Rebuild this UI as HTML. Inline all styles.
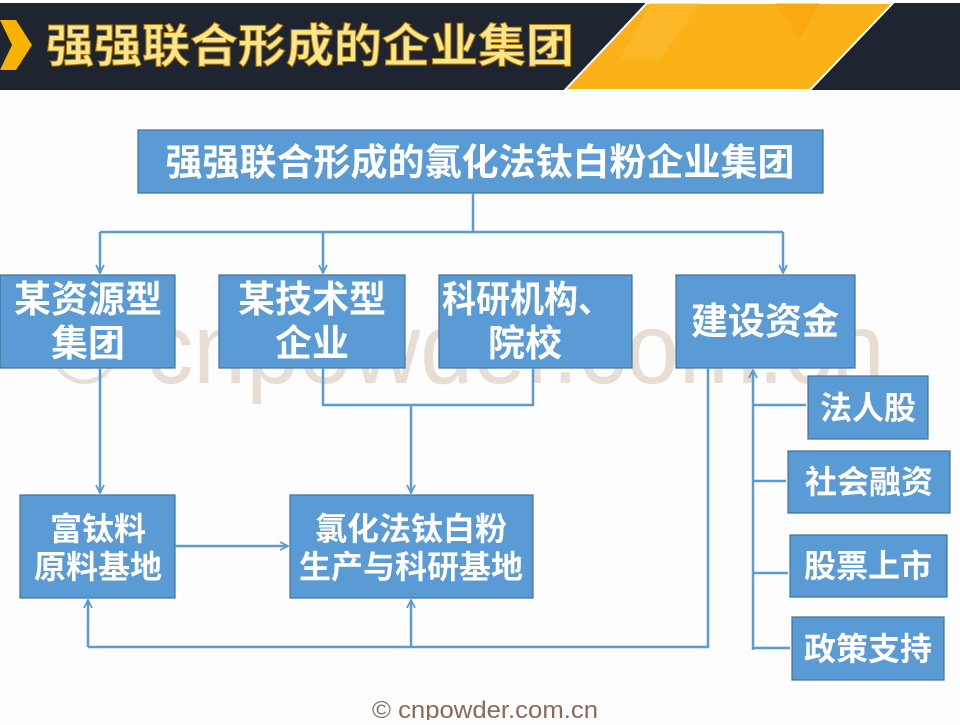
<!DOCTYPE html>
<html><head><meta charset="utf-8"><style>
body{margin:0;width:960px;height:720px;overflow:hidden;background:#fdfdfd;font-family:"Liberation Sans","Noto Sans CJK SC",sans-serif}
</style></head><body>
<svg width="960" height="720" viewBox="0 0 960 720" xmlns="http://www.w3.org/2000/svg" font-family="Liberation Sans, Noto Sans CJK SC, sans-serif">
<defs><marker id="a" viewBox="0 0 10 10" refX="9" refY="5" markerWidth="10" markerHeight="10" markerUnits="userSpaceOnUse" orient="auto"><path d="M1,1 L9,5 L1,9" fill="none" stroke="#5b9bd5" stroke-width="1.8"/></marker></defs>
<rect x="0" y="3" width="960" height="87" fill="#1e2530"/>
<polygon points="647,3 893,3 810,90 565,90" fill="#fbb118" stroke="#fff" stroke-width="2"/>
<polygon points="650,3 700,3 660,60 620,60" fill="#fdbd35" opacity=".5"/>
<polygon points="775,3 820,3 800,40" fill="#f9a300" opacity=".5"/>
<polygon points="0,20 16,20 32,45 16,70 0,70 12,45" fill="#f6b400"/>
<text x="46" y="62" font-size="46" font-weight="bold" fill="#fde58c" stroke="#b07a00" stroke-width="1" textLength="528" lengthAdjust="spacingAndGlyphs">强强联合形成的企业集团</text>
<text x="467" y="383" font-size="100" fill="#e8ddd3" text-anchor="middle" textLength="835" lengthAdjust="spacingAndGlyphs">© cnpowder.com.cn</text>
<g fill="#5b9bd5" stroke="#41719c" stroke-width="1.2">
<rect x="138" y="130" width="685" height="63"/>
<rect x="0" y="275" width="175" height="93"/>
<rect x="219" y="275" width="186" height="93"/>
<rect x="439" y="275" width="193" height="93"/>
<rect x="676" y="275" width="179" height="93"/>
<rect x="20" y="495" width="155" height="103"/>
<rect x="290" y="495" width="243" height="103"/>
<rect x="808" y="376" width="120" height="63"/>
<rect x="788" y="451" width="162" height="62"/>
<rect x="790" y="535" width="157" height="62"/>
<rect x="792" y="617" width="152" height="63"/>
</g>
<g fill="none" stroke="#5b9bd5" stroke-width="2.5">
<path d="M473,193 V232 M100,232 H783"/>
<path d="M100,232 V273" marker-end="url(#a)"/>
<path d="M323,232 V273" marker-end="url(#a)"/>
<path d="M783,232 V273" marker-end="url(#a)"/>
<path d="M323,368 V405 H533 V368"/>
<path d="M411,405 V493" marker-end="url(#a)"/>
<path d="M100,368 V493" marker-end="url(#a)"/>
<path d="M175,546 H288" marker-end="url(#a)"/>
<path d="M708,368 V647 H88"/>
<path d="M88,647 V600" marker-end="url(#a)"/>
<path d="M411,647 V600" marker-end="url(#a)"/>
<path d="M753,650 V370" marker-end="url(#a)"/>
<path d="M753,405 H806 M753,481 H786 M753,573 H788 M753,648 H790"/>
</g>
<g fill="#fff" font-weight="bold" text-anchor="middle" font-size="37">
<text x="480" y="175">强强联合形成的氯化法钛白粉企业集团</text>
<text x="88" y="312">某资源型</text><text x="88" y="356">集团</text>
<text x="312" y="312">某技术型</text><text x="312" y="356">企业</text>
<text x="527" y="312" textLength="170" lengthAdjust="spacingAndGlyphs">科研机构、</text><text x="525" y="356">院校</text>
<text x="765" y="334">建设资金</text>
</g>
<g fill="#fff" font-weight="bold" text-anchor="middle" font-size="32">
<text x="98" y="540">富钛料</text><text x="98" y="578">原料基地</text>
<text x="411" y="540">氯化法钛白粉</text><text x="411" y="578">生产与科研基地</text>
<text x="868" y="419">法人股</text>
<text x="869" y="493">社会融资</text>
<text x="868" y="577">股票上市</text>
<text x="868" y="660">政策支持</text>
</g>
<text x="485" y="718" font-size="24" fill="#8a6a55" text-anchor="middle" textLength="226" lengthAdjust="spacingAndGlyphs">© cnpowder.com.cn</text>
</svg>
</body></html>
